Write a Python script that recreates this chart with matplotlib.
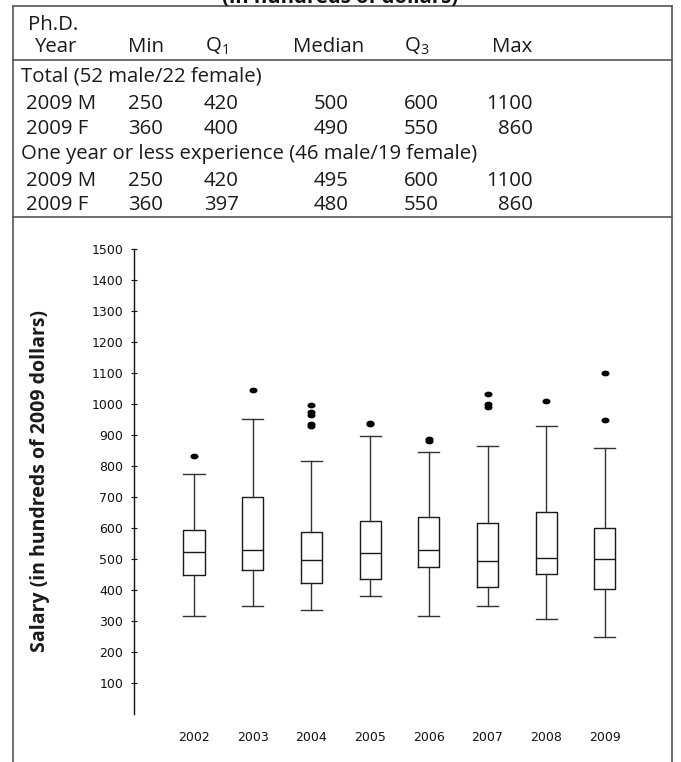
import matplotlib
matplotlib.use('Agg')
import matplotlib.pyplot as plt
from matplotlib.lines import Line2D
from matplotlib.path import Path
from matplotlib.transforms import Affine2D

plt.rcParams['font.family'] = ['Open Sans', 'DejaVu Sans']
plt.rcParams['mathtext.default'] = 'regular'

W, H = 681, 762

# box plot data (hundreds of 2009 dollars)
years = ['2002', '2003', '2004', '2005', '2006', '2007', '2008', '2009']
whis_lo = [318, 348, 338, 381, 316, 348, 306, 250]
q1 = [449, 465, 422, 437, 475, 412, 452, 405]
median = [522, 530, 497, 519, 530, 494, 504, 500]
q3 = [594, 700, 589, 625, 636, 617, 654, 600]
whis_hi = [775, 954, 817, 899, 847, 866, 929, 860]
outliers = [[832], [1047], [998, 975, 965, 936, 930], [935, 940], [883, 889],
            [1034, 1001, 991], [1011], [1100, 950]]
yticks = list(range(100, 1501, 100))

# table
col_heads = ['Min', 'Q$_\\mathregular{1}$', 'Median', 'Q$_\\mathregular{3}$', 'Max']
groups = ['Total (52 male/22 female)',
          'One year or less experience (46 male/19 female)']
row_labels = ['2009 M', '2009 F']
total_rows = [[250, 420, 500, 600, 1100],
              [360, 400, 490, 550, 860]]
newhire_rows = [[250, 420, 495, 600, 1100],
                [360, 397, 480, 550, 860]]


def fx(x):
    return x / W


def fy(y):
    return 1 - y / H


fig = plt.figure(figsize=(W / 100, H / 100), dpi=100)

# frame lines round the table
frame = dict(color='#555555', lw=1.2, transform=fig.transFigure)
fig.add_artist(Line2D([fx(12.7), fx(671.7)], [fy(6), fy(6)], **frame))
fig.add_artist(Line2D([fx(12.7), fx(671.7)], [fy(60), fy(60)], **frame))
fig.add_artist(Line2D([fx(12.7), fx(671.7)], [fy(216.5), fy(216.5)], **frame))
fig.add_artist(Line2D([fx(12.7), fx(12.7)], [fy(6), 0], **frame))
fig.add_artist(Line2D([fx(671.7), fx(671.7)], [fy(6), 0], **frame))

# title, cut by the top edge as in the source page
fig.text(fx(340), fy(3), '(in hundreds of dollars)', ha='center', va='baseline',
         fontsize=14.7, fontweight='bold', color='#111111')

ts = dict(fontsize=14.7, color='#1a1a1a', va='baseline')
fig.text(fx(28), fy(30), 'Ph.D.', ha='left', **ts)
fig.text(fx(35), fy(51.7), 'Year', ha='left', **ts)
head_x = [128, 205, 293, 404, 492]
for hx, h in zip(head_x, col_heads):
    fig.text(fx(hx), fy(51.7), h, ha='left', **ts)

# value columns: (x, alignment)
val_pos = [(128, 'left'), (204, 'left'), (349, 'right'), (404, 'left'), (533, 'right')]
group_base = [81.7, 159]
row_base = [[109.3, 134.3], [185.7, 210]]
for g, gname, rows in zip(range(2), groups, [total_rows, newhire_rows]):
    fig.text(fx(20.7), fy(group_base[g]), gname, ha='left', **ts)
    for r, (lab, vals) in enumerate(zip(row_labels, rows)):
        yb = fy(row_base[g][r])
        fig.text(fx(26), yb, lab, ha='left', **ts)
        for (vx, al), v in zip(val_pos, vals):
            fig.text(fx(vx), yb, str(v), ha=al, **ts)

# box plot
ax = fig.add_axes([fx(134.3), fy(714.3), (670 - 134.3) / W, (714.3 - 249.3) / H])
pos = list(range(1, len(years) + 1))
stats = []
for i in range(len(years)):
    stats.append(dict(med=median[i], q1=q1[i], q3=q3[i], whislo=whis_lo[i],
                      whishi=whis_hi[i], fliers=outliers[i], label=years[i]))

oval = Path.unit_circle().transformed(Affine2D().scale(1.0, 0.65))
ax.bxp(stats, positions=pos, widths=0.36, capwidths=0.36,
       boxprops=dict(color='#1a1a1a', lw=1.0),
       medianprops=dict(color='#1a1a1a', lw=1.0),
       whiskerprops=dict(color='#333333', lw=1.0),
       capprops=dict(color='#333333', lw=1.0),
       flierprops=dict(marker=oval, markerfacecolor='black', markeredgecolor='black',
                       markersize=4.8, linestyle='none'))

ax.set_ylim(0, 1500)
ax.set_xlim(1 - 59.7 / 58.7, 1 + (670 - 194) / 58.7)
ax.set_yticks(yticks)
ax.set_yticklabels([str(t) for t in yticks], family='DejaVu Sans', fontsize=9)
ax.set_xticks(pos)
ax.set_xticklabels(years, family='DejaVu Sans', fontsize=9)
ax.tick_params(axis='y', direction='inout', length=6 * 0.72, width=0.8,
               pad=5.8, colors='#111111')
ax.tick_params(axis='x', length=0, pad=12, colors='#111111')
for s in ['top', 'right', 'bottom']:
    ax.spines[s].set_visible(False)
ax.spines['left'].set_color('#111111')
ax.spines['left'].set_linewidth(1.0)
ax.patch.set_visible(False)

fig.text(fx(40), fy(481), 'Salary (in hundreds of 2009 dollars)', rotation=90,
         ha='center', va='center', fontsize=14, fontweight='bold', color='#1a1a1a')

fig.savefig('out.png', dpi=100)
